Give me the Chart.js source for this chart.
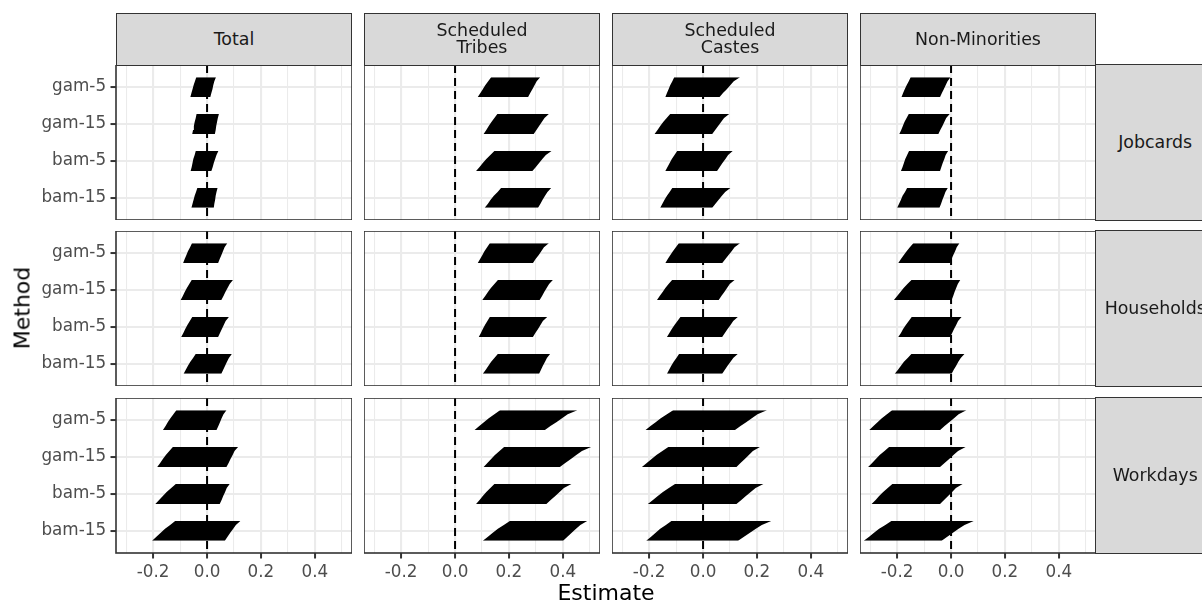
<!DOCTYPE html>
<html>
<head>
<meta charset="utf-8">
<script src="https://cdn.jsdelivr.net/npm/chart.js@4.4.1/dist/chart.umd.min.js"></script>
<style>
  html, body { margin: 0; padding: 0; background: #fff; }
  #fig { position: relative; width: 1202px; height: 602px; overflow: hidden; font-family: 'DejaVu Sans', sans-serif; }
  .panel { position: absolute; }
  .panel canvas { display: block; }
  .strip { position: absolute; box-sizing: border-box; background: #D9D9D9; border: 1.6px solid #333333;
           color: #1A1A1A; font-size: 17.4px; line-height: 17px; display: flex; align-items: center;
           justify-content: center; text-align: center; white-space: pre-line; overflow: hidden; }
  .title { position: absolute; color: #000; font-size: 22px; white-space: nowrap; }
</style>
</head>
<body>
<div id="fig"></div>
<script>
// Facet labels
const methods  = ['gam-5', 'gam-15', 'bam-5', 'bam-15'];
const groups   = ['Total', 'Scheduled\nTribes', 'Scheduled\nCastes', 'Non-Minorities'];
const outcomes = ['Jobcards', 'Households', 'Workdays'];

// Estimate axis ticks
const xMajorTicks = [-0.2, 0, 0.2, 0.4];
const xMinorTicks = [-0.3, -0.1, 0.1, 0.3, 0.5];
const referenceLine = 0;

// Interval bounds per method (rows: gam-5, gam-15, bam-5, bam-15),
// each row lists the sorted intervals from the top of the stack to the bottom.

// Jobcards
const jobcardsTotalLo = [
  [-0.040, -0.045, -0.050, -0.054, -0.058, -0.062],
  [-0.039, -0.042, -0.046, -0.049, -0.052, -0.055],
  [-0.042, -0.046, -0.051, -0.054, -0.057, -0.061],
  [-0.036, -0.041, -0.046, -0.050, -0.054, -0.058]];
const jobcardsTotalHi = [
  [0.033, 0.027, 0.023, 0.020, 0.016, 0.012],
  [0.044, 0.040, 0.037, 0.034, 0.032, 0.029],
  [0.042, 0.035, 0.030, 0.025, 0.021, 0.016],
  [0.039, 0.035, 0.032, 0.030, 0.027, 0.025]];
const jobcardsTribesLo = [
  [0.134, 0.123, 0.112, 0.103, 0.094, 0.084],
  [0.157, 0.146, 0.135, 0.125, 0.116, 0.106],
  [0.146, 0.131, 0.116, 0.103, 0.091, 0.078],
  [0.171, 0.158, 0.144, 0.132, 0.122, 0.110]];
const jobcardsTribesHi = [
  [0.316, 0.303, 0.295, 0.287, 0.279, 0.271],
  [0.348, 0.332, 0.322, 0.312, 0.302, 0.292],
  [0.358, 0.337, 0.324, 0.312, 0.300, 0.287],
  [0.357, 0.343, 0.334, 0.325, 0.317, 0.308]];
const jobcardsCastesLo = [
  [-0.107, -0.114, -0.122, -0.128, -0.134, -0.140],
  [-0.122, -0.135, -0.148, -0.159, -0.169, -0.180],
  [-0.096, -0.106, -0.116, -0.124, -0.132, -0.140],
  [-0.114, -0.124, -0.134, -0.143, -0.151, -0.159]];
const jobcardsCastesHi = [
  [0.137, 0.114, 0.101, 0.088, 0.074, 0.061],
  [0.097, 0.078, 0.067, 0.056, 0.045, 0.034],
  [0.110, 0.093, 0.083, 0.072, 0.062, 0.052],
  [0.102, 0.082, 0.070, 0.058, 0.046, 0.034]];
const jobcardsNonMinLo = [
  [-0.150, -0.157, -0.165, -0.172, -0.178, -0.184],
  [-0.157, -0.165, -0.173, -0.179, -0.185, -0.192],
  [-0.156, -0.163, -0.170, -0.175, -0.180, -0.186],
  [-0.163, -0.171, -0.180, -0.186, -0.193, -0.200]];
const jobcardsNonMinHi = [
  [-0.002, -0.013, -0.020, -0.027, -0.034, -0.041],
  [-0.005, -0.018, -0.025, -0.032, -0.040, -0.047],
  [-0.011, -0.020, -0.025, -0.031, -0.036, -0.041],
  [-0.012, -0.021, -0.026, -0.032, -0.037, -0.043]];

// Households
const householdsTotalLo = [
  [-0.056, -0.063, -0.071, -0.077, -0.083, -0.089],
  [-0.057, -0.066, -0.075, -0.083, -0.090, -0.098],
  [-0.055, -0.064, -0.073, -0.081, -0.088, -0.096],
  [-0.042, -0.052, -0.062, -0.071, -0.079, -0.087]];
const householdsTotalHi = [
  [0.075, 0.065, 0.059, 0.053, 0.047, 0.041],
  [0.096, 0.084, 0.076, 0.068, 0.061, 0.053],
  [0.081, 0.069, 0.062, 0.055, 0.048, 0.041],
  [0.092, 0.081, 0.074, 0.067, 0.060, 0.053]];
const householdsTribesLo = [
  [0.129, 0.119, 0.109, 0.101, 0.093, 0.084],
  [0.159, 0.146, 0.133, 0.122, 0.112, 0.101],
  [0.129, 0.120, 0.111, 0.103, 0.096, 0.088],
  [0.159, 0.146, 0.134, 0.124, 0.114, 0.103]];
const householdsTribesHi = [
  [0.348, 0.330, 0.320, 0.310, 0.299, 0.289],
  [0.363, 0.349, 0.340, 0.331, 0.323, 0.314],
  [0.342, 0.326, 0.317, 0.308, 0.298, 0.289],
  [0.353, 0.341, 0.334, 0.326, 0.319, 0.312]];
const householdsCastesLo = [
  [-0.090, -0.101, -0.112, -0.122, -0.131, -0.140],
  [-0.115, -0.128, -0.140, -0.150, -0.161, -0.171],
  [-0.084, -0.095, -0.106, -0.116, -0.125, -0.134],
  [-0.089, -0.099, -0.109, -0.118, -0.126, -0.134]];
const householdsCastesHi = [
  [0.137, 0.117, 0.106, 0.094, 0.083, 0.071],
  [0.117, 0.099, 0.089, 0.079, 0.068, 0.058],
  [0.129, 0.112, 0.102, 0.091, 0.081, 0.071],
  [0.129, 0.112, 0.102, 0.091, 0.081, 0.071]];
const householdsNonMinLo = [
  [-0.140, -0.153, -0.165, -0.176, -0.186, -0.196],
  [-0.147, -0.162, -0.176, -0.188, -0.200, -0.212],
  [-0.146, -0.157, -0.168, -0.178, -0.186, -0.196],
  [-0.147, -0.161, -0.175, -0.186, -0.197, -0.209]];
const householdsNonMinHi = [
  [0.031, 0.021, 0.015, 0.008, 0.002, -0.004],
  [0.034, 0.025, 0.019, 0.013, 0.008, 0.002],
  [0.039, 0.026, 0.019, 0.011, 0.004, -0.004],
  [0.050, 0.036, 0.027, 0.019, 0.010, 0.002]];

// Workdays
const workdaysTotalLo = [
  [-0.114, -0.125, -0.136, -0.146, -0.154, -0.164],
  [-0.127, -0.140, -0.153, -0.164, -0.174, -0.185],
  [-0.116, -0.133, -0.150, -0.164, -0.178, -0.192],
  [-0.118, -0.137, -0.156, -0.172, -0.188, -0.204]];
const workdaysTotalHi = [
  [0.072, 0.061, 0.054, 0.048, 0.042, 0.035],
  [0.115, 0.102, 0.095, 0.087, 0.080, 0.072],
  [0.084, 0.073, 0.067, 0.060, 0.054, 0.047],
  [0.124, 0.107, 0.097, 0.086, 0.076, 0.066]];
const workdaysTribesLo = [
  [0.167, 0.146, 0.125, 0.107, 0.090, 0.072],
  [0.182, 0.165, 0.148, 0.134, 0.120, 0.106],
  [0.146, 0.131, 0.116, 0.103, 0.091, 0.078],
  [0.204, 0.181, 0.159, 0.140, 0.122, 0.103]];
const workdaysTribesHi = [
  [0.454, 0.418, 0.397, 0.376, 0.354, 0.333],
  [0.505, 0.471, 0.450, 0.430, 0.409, 0.389],
  [0.432, 0.404, 0.388, 0.372, 0.355, 0.339],
  [0.491, 0.465, 0.449, 0.433, 0.417, 0.401]];
const workdaysCastesLo = [
  [-0.111, -0.134, -0.157, -0.176, -0.195, -0.214],
  [-0.129, -0.151, -0.173, -0.191, -0.209, -0.227],
  [-0.104, -0.127, -0.149, -0.168, -0.186, -0.205],
  [-0.117, -0.138, -0.159, -0.176, -0.193, -0.211]];
const workdaysCastesHi = [
  [0.237, 0.202, 0.181, 0.160, 0.139, 0.118],
  [0.211, 0.185, 0.170, 0.155, 0.139, 0.124],
  [0.224, 0.195, 0.177, 0.159, 0.142, 0.124],
  [0.254, 0.218, 0.196, 0.174, 0.152, 0.130]];
const workdaysNonMinLo = [
  [-0.219, -0.238, -0.257, -0.273, -0.288, -0.304],
  [-0.230, -0.247, -0.265, -0.279, -0.293, -0.308],
  [-0.218, -0.235, -0.252, -0.267, -0.280, -0.295],
  [-0.221, -0.244, -0.267, -0.286, -0.304, -0.324]];
const workdaysNonMinHi = [
  [0.057, 0.028, 0.011, -0.007, -0.024, -0.041],
  [0.054, 0.026, 0.009, -0.007, -0.024, -0.041],
  [0.043, 0.018, 0.004, -0.011, -0.026, -0.041],
  [0.085, 0.050, 0.028, 0.007, -0.014, -0.035]];

// Facet grid: rows = outcomes, columns = groups
const intervalTable = [
  [[jobcardsTotalLo, jobcardsTotalHi], [jobcardsTribesLo, jobcardsTribesHi],
   [jobcardsCastesLo, jobcardsCastesHi], [jobcardsNonMinLo, jobcardsNonMinHi]],
  [[householdsTotalLo, householdsTotalHi], [householdsTribesLo, householdsTribesHi],
   [householdsCastesLo, householdsCastesHi], [householdsNonMinLo, householdsNonMinHi]],
  [[workdaysTotalLo, workdaysTotalHi], [workdaysTribesLo, workdaysTribesHi],
   [workdaysCastesLo, workdaysCastesHi], [workdaysNonMinLo, workdaysNonMinHi]]
];

// Layout
const X_MIN = -0.338, X_MAX = 0.538;
const Y_MIN = 0.4, Y_MAX = 4.6;
const DODGE = 0.54;                       // vertical band occupied by one method's stack
const PANEL_LEFT = [116, 364, 612, 860];
const PANEL_TOP = [65, 231, 398];
const PW = 236, PH = 155;
const AXIS_L = 116, AXIS_B = 49;
const STRIP_TOP = 13, STRIP_RIGHT_W = 120;
const TICK_FONT = { family: "'DejaVu Sans', sans-serif", size: 16.8 };

const fig = document.getElementById('fig');

const panelBorder = {
  id: 'panelBorder',
  afterDraw(chart) {
    const { ctx, chartArea: a } = chart;
    ctx.save();
    ctx.strokeStyle = '#333333';
    ctx.lineWidth = 1.6;
    ctx.strokeRect(a.left, a.top, a.right - a.left, a.bottom - a.top);
    ctx.restore();
  }
};

const isMajor = v => xMajorTicks.some(m => Math.abs(m - v) < 1e-9);
const allXTicks = [...xMajorTicks, ...xMinorTicks].sort((a, b) => a - b);

outcomes.forEach((outcome, r) => {
  groups.forEach((group, c) => {
    const [lo, hi] = intervalTable[r][c];
    const padL = c === 0 ? AXIS_L : 0;
    const padB = r === outcomes.length - 1 ? AXIS_B : 0;
    const W = PW + padL, H = PH + padB;

    const box = document.createElement('div');
    box.className = 'panel';
    box.style.left = (PANEL_LEFT[c] - padL) + 'px';
    box.style.top = PANEL_TOP[r] + 'px';
    box.style.width = W + 'px';
    box.style.height = H + 'px';
    const cv = document.createElement('canvas');
    cv.width = W; cv.height = H;
    cv.style.width = W + 'px'; cv.style.height = H + 'px';
    box.appendChild(cv);
    fig.appendChild(box);

    // Each method's stack of sorted intervals: the lower bounds form the left
    // edge, the upper bounds the right edge, and the band between them is filled.
    const datasets = [];
    methods.forEach((m, i) => {
      const K = lo[i].length;
      const yAt = k => i + 1 - DODGE / 2 + k * DODGE / (K - 1);
      datasets.push({ data: lo[i].map((v, k) => ({ x: v, y: yAt(k) })),
        borderWidth: 0, pointRadius: 0, fill: false, backgroundColor: '#000000' });
      datasets.push({ data: hi[i].map((v, k) => ({ x: v, y: yAt(k) })),
        borderWidth: 0, pointRadius: 0, fill: '-1', backgroundColor: '#000000' });
    });
    datasets.push({ data: [{ x: referenceLine, y: Y_MIN }, { x: referenceLine, y: Y_MAX }],
      borderColor: '#000000', borderWidth: 2, borderDash: [8, 5], pointRadius: 0, fill: false });

    new Chart(cv, {
      type: 'line',
      data: { datasets },
      options: {
        indexAxis: 'y',
        responsive: false,
        animation: false,
        events: [],
        layout: { padding: 0, autoPadding: false },
        plugins: { legend: { display: false }, tooltip: { enabled: false } },
        scales: {
          x: {
            type: 'linear', position: 'bottom', min: X_MIN, max: X_MAX, offset: false,
            afterBuildTicks: s => { s.ticks = allXTicks.map(v => ({ value: v })); },
            afterFit: s => { s.height = padB; s.paddingLeft = 0; s.paddingRight = 0; },
            border: { display: false },
            grid: {
              color: '#EBEBEB', offset: false,
              lineWidth: ctx => isMajor(ctx.tick.value) ? 2.1 : 1.05,
              drawTicks: padB > 0, tickLength: 5.5, tickWidth: 2,
              tickColor: ctx => isMajor(ctx.tick.value) ? '#333333' : 'rgba(0,0,0,0)'
            },
            ticks: {
              display: padB > 0, autoSkip: false, maxRotation: 0, padding: 4,
              color: '#4D4D4D', font: TICK_FONT,
              callback: v => isMajor(v) ? Number(v).toFixed(1) : ''
            }
          },
          y: {
            type: 'linear', position: 'left', reverse: true, min: Y_MIN, max: Y_MAX, offset: false,
            afterBuildTicks: s => { s.ticks = methods.map((m, i) => ({ value: i + 1 })); },
            afterFit: s => { s.width = padL; s.paddingTop = 0; s.paddingBottom = 0; },
            border: { display: false },
            grid: { color: '#EBEBEB', offset: false, lineWidth: 2.1, drawTicks: padL > 0,
                    tickLength: 5.5, tickWidth: 2, tickColor: '#333333' },
            ticks: {
              display: padL > 0, autoSkip: false, padding: 4.4,
              color: '#4D4D4D', font: TICK_FONT,
              callback: v => methods[Math.round(v) - 1]
            }
          }
        }
      },
      plugins: [panelBorder]
    });
  });
});

// Column strips
groups.forEach((group, c) => {
  const s = document.createElement('div');
  s.className = 'strip';
  s.style.left = PANEL_LEFT[c] + 'px';
  s.style.top = STRIP_TOP + 'px';
  s.style.width = PW + 'px';
  s.style.height = (PANEL_TOP[0] - STRIP_TOP + 0.8) + 'px';
  s.textContent = group;
  fig.appendChild(s);
});

// Row strips
outcomes.forEach((outcome, r) => {
  const s = document.createElement('div');
  s.className = 'strip';
  s.style.left = (PANEL_LEFT[3] + PW - 0.8) + 'px';
  s.style.top = (PANEL_TOP[r] - 0.8) + 'px';
  s.style.width = STRIP_RIGHT_W + 'px';
  s.style.height = (PH + 1.6) + 'px';
  s.style.whiteSpace = 'nowrap';
  s.textContent = outcome;
  fig.appendChild(s);
});

// Axis titles
const yTitle = document.createElement('div');
yTitle.className = 'title';
yTitle.textContent = 'Method';
yTitle.style.left = '22px';
yTitle.style.top = '308px';
yTitle.style.transform = 'translate(-50%, -50%) rotate(-90deg)';
fig.appendChild(yTitle);

const xTitle = document.createElement('div');
xTitle.className = 'title';
xTitle.textContent = 'Estimate';
xTitle.style.left = '606px';
xTitle.style.top = '592px';
xTitle.style.transform = 'translate(-50%, -50%)';
fig.appendChild(xTitle);
</script>
</body>
</html>
